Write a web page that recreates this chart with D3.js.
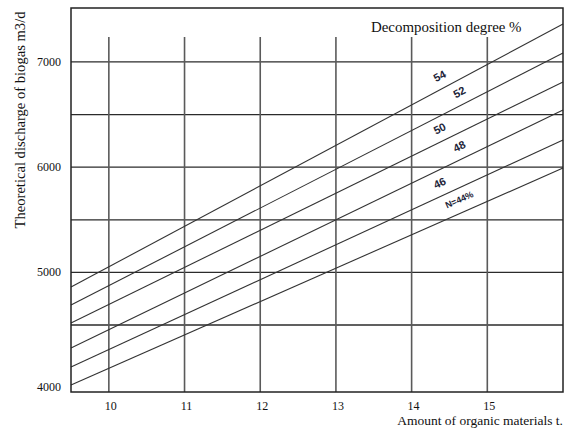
<!DOCTYPE html>
<html>
<head>
<meta charset="utf-8">
<script src="https://cdn.jsdelivr.net/npm/d3@7"></script>
<style>
  html, body { margin: 0; padding: 0; background: #fff; }
  svg { display: block; }
</style>
</head>
<body>
<svg id="chart" width="570" height="430"></svg>
<script>
// ---- data ----
const xTicks = [10, 11, 12, 13, 14, 15];
const yTickLabels = [4000, 5000, 6000, 7000];
const yGridValues = [4500, 5000, 5500, 6000, 6500, 7000];
const degreeLabels = ["54", "52", "50", "48", "46", "N=44%"];
const xRange = [9.5, 16];
const startValues = [4861, 4690, 4519, 4315, 4161, 4016];   // biogas at x = 9.5
const endValues   = [7361, 7086, 6810, 6544, 6259, 5992];   // biogas at x = 16
const titleText = "Decomposition degree %";
const xTitle = "Amount of organic materials t.";
const yTitle = "Theoretical discharge of  biogas m3/d";

// ---- layout ----
const L = 71, R = 563, T = 8, B = 392;
const svg = d3.select("#chart");
const serif = "'Liberation Serif', 'Times New Roman', serif";

const x = d3.scaleLinear().domain(xRange).range([L, R]);
const y = d3.scaleLinear().domain([3960, 4500, 7513]).range([B, 325, T]);

// horizontal grid lines
svg.append("g").selectAll("line").data(yGridValues).join("line")
  .attr("x1", L).attr("x2", R)
  .attr("y1", d => y(d)).attr("y2", d => y(d))
  .attr("stroke", "#2b2b2b").attr("stroke-width", 1.3);

// vertical grid lines (start below the top frame)
svg.append("g").selectAll("line").data(xTicks).join("line")
  .attr("x1", d => x(d)).attr("x2", d => x(d))
  .attr("y1", 37).attr("y2", B)
  .attr("stroke", "#5a5a5a").attr("stroke-width", 1.6);

// diagonal lines
const series = degreeLabels.map((lab, i) => ({
  label: lab,
  pts: [[xRange[0], startValues[i]], [xRange[1], endValues[i]]]
}));
const line = d3.line().x(d => x(d[0])).y(d => y(d[1]));
svg.append("g").selectAll("path").data(series).join("path")
  .attr("d", d => line(d.pts))
  .attr("fill", "none").attr("stroke", "#333").attr("stroke-width", 1.1);

// frame
svg.append("rect").attr("x", L).attr("y", T).attr("width", R - L).attr("height", B - T)
  .attr("fill", "none").attr("stroke", "#222").attr("stroke-width", 1.5);

// degree labels along lines
series.forEach((s, i) => {
  const lx = i % 2 === 0 ? 14.37 : 14.63;
  const x0 = x(s.pts[0][0]), y0 = y(s.pts[0][1]);
  const x1 = x(s.pts[1][0]), y1 = y(s.pts[1][1]);
  const px = x(lx);
  const t = (px - x0) / (x1 - x0);
  const py = y0 + t * (y1 - y0);
  const ang = Math.atan2(y1 - y0, x1 - x0) * 180 / Math.PI;
  svg.append("text")
    .attr("transform", `translate(${px},${py - 14}) rotate(${ang})`)
    .attr("text-anchor", "middle")
    .attr("dominant-baseline", "central")
    .attr("font-family", "'Liberation Sans', Arial, sans-serif")
    .attr("font-weight", "bold")
    .attr("font-size", s.label.length > 3 ? 9 : 11)
    .attr("fill", "#1c2438")
    .text(s.label);
});

// y tick labels
svg.append("g").selectAll("text").data(yTickLabels).join("text")
  .attr("x", 61).attr("y", d => y(d))
  .attr("text-anchor", "end").attr("dominant-baseline", "central")
  .attr("font-family", serif).attr("font-size", 12).attr("fill", "#111")
  .text(d => d);

// x tick labels
svg.append("g").selectAll("text").data(xTicks).join("text")
  .attr("x", d => x(d) + 2).attr("y", 406)
  .attr("text-anchor", "middle").attr("dominant-baseline", "central")
  .attr("font-family", serif).attr("font-size", 12).attr("fill", "#111")
  .text(d => d);

// titles
svg.append("text").attr("x", 371).attr("y", 27)
  .attr("dominant-baseline", "central")
  .attr("font-family", serif).attr("font-size", 14.9).attr("fill", "#111")
  .text(titleText);

svg.append("text").attr("x", 563).attr("y", 420)
  .attr("text-anchor", "end").attr("dominant-baseline", "central")
  .attr("font-family", serif).attr("font-size", 13.5).attr("fill", "#111")
  .text(xTitle);

svg.append("text")
  .attr("transform", "translate(20,120) rotate(-90)")
  .attr("text-anchor", "middle").attr("dominant-baseline", "central")
  .attr("font-family", serif).attr("font-size", 14.6).attr("fill", "#111")
  .text(yTitle);
</script>
</body>
</html>
